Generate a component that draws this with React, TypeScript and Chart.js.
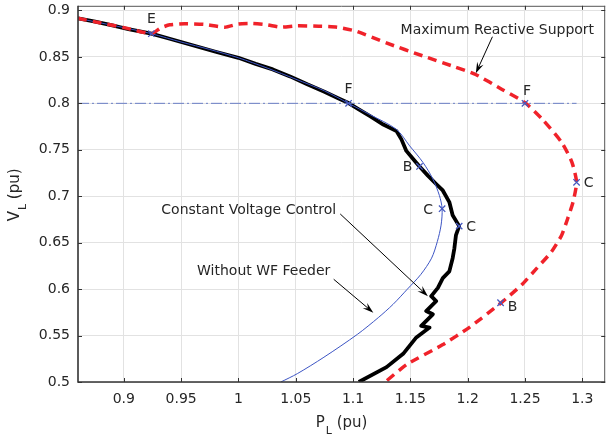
import React, { useEffect, useRef } from 'react';
import { Chart, registerables } from 'chart.js';

Chart.register(...registerables);

// ---- tick values ----
const X_TICKS = [0.9, 0.95, 1, 1.05, 1.1, 1.15, 1.2, 1.25, 1.3];
const Y_TICKS = [0.5, 0.55, 0.6, 0.65, 0.7, 0.75, 0.8, 0.85, 0.9];

// ---- Without WF Feeder (thin blue) ----
const withoutWfP = [0.86, 0.9, 0.924, 0.95, 0.975, 1.0, 1.025, 1.05, 1.075, 1.096, 1.1148, 1.1379, 1.1494, 1.161, 1.1696, 1.1753, 1.1777, 1.1768, 1.1735, 1.1685, 1.159, 1.1474, 1.1349, 1.122, 1.104, 1.0746, 1.0514, 1.037];
const withoutWfV = [0.8915, 0.8815, 0.875, 0.866, 0.858, 0.849, 0.838, 0.826, 0.8135, 0.8, 0.7878, 0.7719, 0.7542, 0.7364, 0.7186, 0.7009, 0.6866, 0.6689, 0.6511, 0.6333, 0.6156, 0.6, 0.5836, 0.5693, 0.5515, 0.5267, 0.509, 0.5];

// ---- Constant Voltage Control (thick black) ----
const constVoltP = [0.86, 0.875, 0.89, 0.905, 0.924, 0.94, 0.96, 0.98, 1.0, 1.015, 1.03, 1.045, 1.06, 1.075, 1.087, 1.0961, 1.105, 1.1148, 1.1264, 1.1379, 1.1422, 1.1465, 1.1537, 1.158, 1.1653, 1.1725, 1.1783, 1.184, 1.1869, 1.1926, 1.1898, 1.1884, 1.1869, 1.184, 1.1783, 1.174, 1.1682, 1.1725, 1.1638, 1.1696, 1.1595, 1.1667, 1.1552, 1.1437, 1.1292, 1.105];
const constVoltV = [0.8915, 0.888, 0.884, 0.8795, 0.875, 0.8695, 0.8625, 0.8555, 0.849, 0.8425, 0.8365, 0.829, 0.8205, 0.8125, 0.8055, 0.8003, 0.7935, 0.7861, 0.7772, 0.7701, 0.7612, 0.7488, 0.7382, 0.7321, 0.7222, 0.7132, 0.7062, 0.6937, 0.6795, 0.6678, 0.6582, 0.6439, 0.6333, 0.6191, 0.6119, 0.6013, 0.5924, 0.5871, 0.5764, 0.5729, 0.5604, 0.5586, 0.548, 0.5303, 0.516, 0.5];

// ---- Maximum Reactive Support (red dashed) ----
const maxReactP = [0.86, 0.88, 0.9, 0.924, 0.932, 0.94, 0.953, 0.97, 0.988, 1.0, 1.012, 1.025, 1.037, 1.051, 1.07, 1.086, 1.103, 1.129, 1.161, 1.187, 1.207, 1.23, 1.25, 1.265, 1.282, 1.291, 1.295, 1.292, 1.287, 1.282, 1.273, 1.26, 1.247, 1.229, 1.2013, 1.178, 1.147, 1.128];
const maxReactV = [0.8915, 0.8865, 0.8815, 0.875, 0.881, 0.8845, 0.8857, 0.885, 0.882, 0.8855, 0.886, 0.8845, 0.882, 0.8835, 0.883, 0.882, 0.8775, 0.865, 0.851, 0.84, 0.831, 0.815, 0.8007, 0.783, 0.758, 0.7365, 0.715, 0.694, 0.675, 0.658, 0.64, 0.622, 0.6045, 0.585, 0.5586, 0.54, 0.519, 0.5];

// ---- reference line V = 0.8 ----
const refLineP = [0.86, 1.295];
const refLineV = [0.8, 0.8];

// ---- operating points ----
const markerP = [0.924, 1.0961, 1.25, 1.158, 1.1777, 1.1926, 1.295, 1.2287];
const markerV = [0.875, 0.8, 0.8, 0.7321, 0.6866, 0.6678, 0.715, 0.5853];
const markerLabels = ['E', 'F', 'F', 'B', 'C', 'C', 'C', 'B'];
const markerLabelOffsets = [[0, -14], [0, -14], [2, -12], [-12, 1], [-14, 2], [12, 1], [12, 1], [12, 5]];

// ---- annotations ----
const annotationTexts = ['Maximum Reactive Support', 'Constant Voltage Control', 'Without WF Feeder'];
const annotationAnchors = [[1.2259, 0.8749], [1.009, 0.6812], [1.022, 0.6156]];
const arrowStarts = [[1.2216, 0.8717], [1.0888, 0.6809], [1.0831, 0.6106]];
const arrowEnds = [[1.2071, 0.8323], [1.1653, 0.5924], [1.1177, 0.5746]];

const FONT = '"DejaVu Sans", "Liberation Sans", sans-serif';
const TEXT = '#262626';

const pts = (xs: number[], ys: number[]) => xs.map((x, i) => ({ x, y: ys[i] }));
const fmt = (v: number) => String(Number(v.toFixed(2)));

function drawArrow(ctx: CanvasRenderingContext2D, x1: number, y1: number, x2: number, y2: number) {
  const ang = Math.atan2(y2 - y1, x2 - x1);
  const L = 11, W = 3.5, notch = 7;
  const c = Math.cos(ang), s = Math.sin(ang);
  ctx.beginPath();
  ctx.moveTo(x1, y1);
  ctx.lineTo(x2 - c * notch, y2 - s * notch);
  ctx.stroke();
  const bx = x2 - c * L, by = y2 - s * L;
  const nx = -s, ny = c;
  ctx.beginPath();
  ctx.moveTo(x2, y2);
  ctx.lineTo(bx + nx * W, by + ny * W);
  ctx.lineTo(x2 - c * notch, y2 - s * notch);
  ctx.lineTo(bx - nx * W, by - ny * W);
  ctx.closePath();
  ctx.fill();
}

const overlayPlugin = {
  id: 'overlay',
  afterDraw(chart: any) {
    const { ctx, chartArea: a, scales } = chart;
    const xs = scales.x, ys = scales.y;
    ctx.save();

    // axes box
    ctx.strokeStyle = '#555';
    ctx.lineWidth = 1;
    ctx.beginPath();
    ctx.moveTo(a.left, a.top + 0.5);
    ctx.lineTo(a.right, a.top + 0.5);
    ctx.moveTo(a.right - 0.5, a.top);
    ctx.lineTo(a.right - 0.5, a.bottom);
    ctx.stroke();
    ctx.strokeStyle = '#333';
    ctx.lineWidth = 1.6;
    ctx.beginPath();
    ctx.moveTo(a.left, a.top);
    ctx.lineTo(a.left, a.bottom);
    ctx.lineTo(a.right, a.bottom);
    ctx.stroke();

    // inward ticks
    ctx.lineWidth = 1;
    ctx.strokeStyle = '#333';
    ctx.beginPath();
    X_TICKS.forEach((v) => {
      const px = Math.round(xs.getPixelForValue(v)) + 0.5;
      ctx.moveTo(px, a.bottom);
      ctx.lineTo(px, a.bottom - 4);
      ctx.moveTo(px, a.top);
      ctx.lineTo(px, a.top + 4);
    });
    Y_TICKS.forEach((v) => {
      const py = Math.round(ys.getPixelForValue(v)) + 0.5;
      ctx.moveTo(a.left, py);
      ctx.lineTo(a.left + 4, py);
      ctx.moveTo(a.right, py);
      ctx.lineTo(a.right - 4, py);
    });
    ctx.stroke();

    // marker labels
    ctx.fillStyle = TEXT;
    ctx.font = `14px ${FONT}`;
    ctx.textAlign = 'center';
    ctx.textBaseline = 'middle';
    markerLabels.forEach((lab, i) => {
      const px = xs.getPixelForValue(markerP[i]) + markerLabelOffsets[i][0];
      const py = ys.getPixelForValue(markerV[i]) + markerLabelOffsets[i][1];
      ctx.fillText(lab, px, py);
    });

    // annotation texts + arrows
    ctx.textBaseline = 'alphabetic';
    annotationTexts.forEach((t, i) => {
      ctx.fillStyle = TEXT;
      ctx.fillText(t, xs.getPixelForValue(annotationAnchors[i][0]), ys.getPixelForValue(annotationAnchors[i][1]));
      ctx.strokeStyle = '#000';
      ctx.fillStyle = '#000';
      ctx.lineWidth = 1;
      drawArrow(
        ctx,
        xs.getPixelForValue(arrowStarts[i][0]), ys.getPixelForValue(arrowStarts[i][1]),
        xs.getPixelForValue(arrowEnds[i][0]), ys.getPixelForValue(arrowEnds[i][1])
      );
    });

    // axis titles with subscripts
    const main = `15px ${FONT}`;
    const sub = `11px ${FONT}`;
    const drawTitle = (sym: string, subs: string, rest: string, cx: number, by: number) => {
      ctx.font = main;
      const w1 = ctx.measureText(sym).width;
      const w3 = ctx.measureText(rest).width;
      ctx.font = sub;
      const w2 = ctx.measureText(subs).width;
      const total = w1 + w2 + w3 + 1;
      const x0 = cx - total / 2;
      ctx.textAlign = 'left';
      ctx.textBaseline = 'alphabetic';
      ctx.fillStyle = TEXT;
      ctx.font = main;
      ctx.fillText(sym, x0, by);
      ctx.font = sub;
      ctx.fillText(subs, x0 + w1 + 1, by + 7);
      ctx.font = main;
      ctx.fillText(rest, x0 + w1 + w2 + 1, by);
    };
    drawTitle('P', 'L', ' (pu)', (a.left + a.right) / 2, 427);
    ctx.save();
    ctx.translate(19, (a.top + a.bottom) / 2 + 1);
    ctx.rotate(-Math.PI / 2);
    drawTitle('V', 'L', ' (pu)', 0, 0);
    ctx.restore();

    ctx.restore();
  },
};

export default function App() {
  const ref = useRef<HTMLCanvasElement>(null);

  useEffect(() => {
    if (!ref.current) return;
    const chart = new Chart(ref.current, {
      type: 'scatter',
      data: {
        datasets: [
          {
            label: 'Operating points',
            data: pts(markerP, markerV),
            showLine: false,
            pointStyle: 'crossRot',
            pointRadius: 4.5,
            borderColor: '#4659c0',
            backgroundColor: '#4659c0',
            borderWidth: 1.3,
            order: 0,
          },
          {
            label: 'V = 0.8',
            data: pts(refLineP, refLineV),
            showLine: true,
            borderColor: '#6a7fc6',
            borderWidth: 1,
            borderDash: [11, 3, 2, 3],
            pointRadius: 0,
            order: 1,
          },
          {
            label: 'Maximum Reactive Support',
            data: pts(maxReactP, maxReactV),
            showLine: true,
            borderColor: '#f0222a',
            borderWidth: 3.5,
            borderDash: [9, 6],
            pointRadius: 0,
            tension: 0.2,
            order: 2,
          },
          {
            label: 'Without WF Feeder',
            data: pts(withoutWfP, withoutWfV),
            showLine: true,
            borderColor: '#3d55c4',
            borderWidth: 1,
            pointRadius: 0,
            tension: 0.3,
            order: 3,
          },
          {
            label: 'Constant Voltage Control',
            data: pts(constVoltP, constVoltV),
            showLine: true,
            borderColor: '#000000',
            borderWidth: 3.8,
            borderJoinStyle: 'round',
            pointRadius: 0,
            order: 4,
          },
        ],
      },
      options: {
        responsive: false,
        animation: false,
        devicePixelRatio: 1,
        layout: { padding: { left: 0, right: 1, top: 2, bottom: 0 } },
        plugins: { legend: { display: false }, tooltip: { enabled: false } },
        scales: {
          x: {
            type: 'linear',
            min: 0.86,
            max: 1.32,
            border: { display: false },
            grid: { color: '#e2e2e2', lineWidth: 1, drawTicks: false },
            ticks: {
              padding: 9,
              color: TEXT,
              font: { family: FONT, size: 14 },
              maxRotation: 0,
              callback: (v: any) => fmt(Number(v)),
            },
            afterBuildTicks: (s: any) => {
              s.ticks = X_TICKS.map((v) => ({ value: v }));
            },
            afterFit: (s: any) => {
              s.height = 57;
              s.paddingLeft = 0;
              s.paddingRight = 0;
            },
          },
          y: {
            type: 'linear',
            min: 0.5,
            max: 0.905,
            border: { display: false },
            grid: { color: '#e2e2e2', lineWidth: 1, drawTicks: false },
            ticks: {
              padding: 8,
              color: TEXT,
              font: { family: FONT, size: 14 },
              callback: (v: any) => fmt(Number(v)),
            },
            afterBuildTicks: (s: any) => {
              s.ticks = Y_TICKS.map((v) => ({ value: v }));
            },
            afterFit: (s: any) => {
              s.width = 78;
              s.paddingTop = 0;
              s.paddingBottom = 0;
            },
          },
        },
      },
      plugins: [overlayPlugin],
    } as any);
    return () => chart.destroy();
  }, []);

  return (
    <div style={{ position: 'fixed', left: 0, top: 0, width: 611, height: 439, background: '#fff' }}>
      <canvas ref={ref} width={611} height={439} style={{ display: 'block', width: 611, height: 439 }} />
    </div>
  );
}
